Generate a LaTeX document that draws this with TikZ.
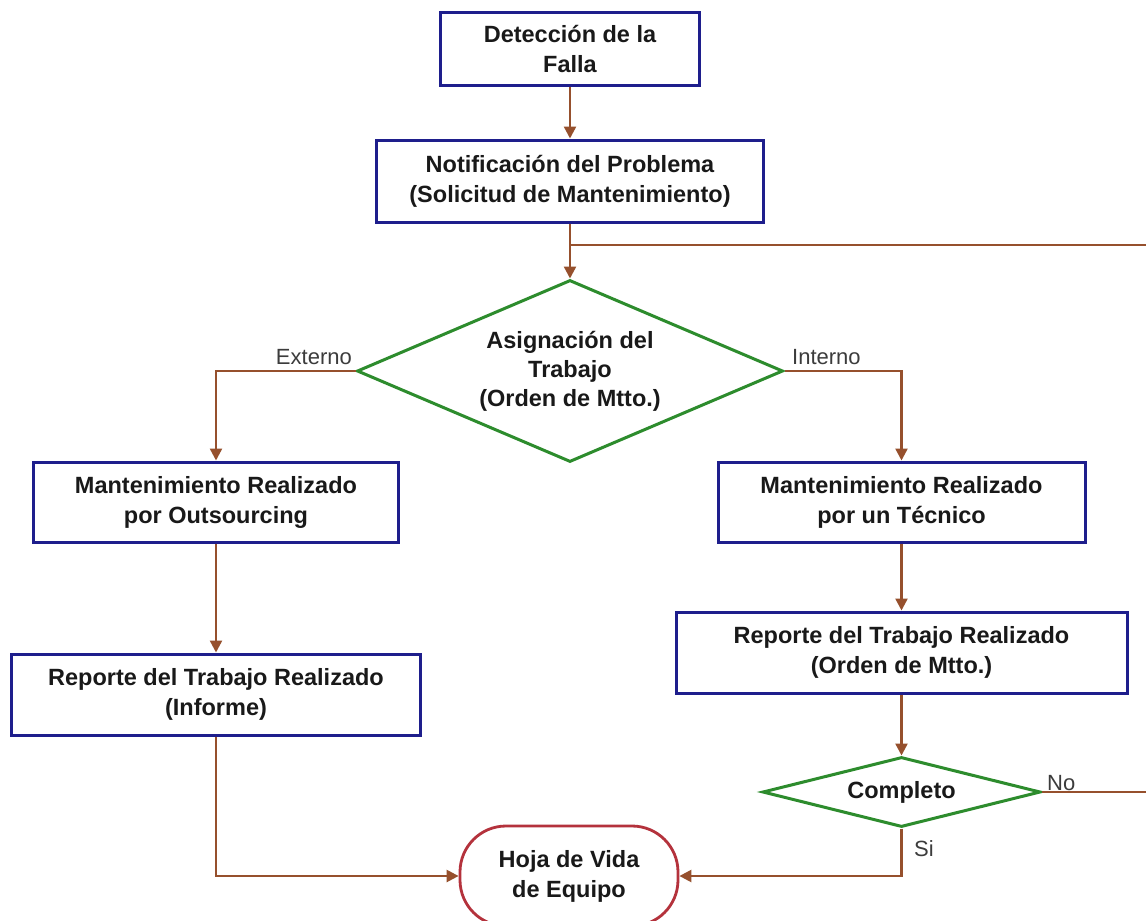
\documentclass[tikz,border=0pt]{standalone}
\usepackage{fontspec}
\setmainfont{Liberation Sans}
\usetikzlibrary{shapes.geometric,arrows.meta}
\definecolor{boxblue}{RGB}{30,30,140}
\definecolor{diagreen}{RGB}{45,140,45}
\definecolor{linebrown}{RGB}{150,80,45}
\definecolor{endred}{RGB}{180,50,60}
\definecolor{txt}{RGB}{25,25,25}
\definecolor{lbl}{RGB}{60,60,60}
\tikzset{
  procbox/.style={draw=boxblue, line width=3pt, rectangle, inner sep=0pt, align=center,
    text=txt, font=\bfseries\fontsize{23.5}{30}\selectfont},
  decide/.style={draw=diagreen, line width=3pt, diamond, inner sep=0pt, align=center,
    text=txt, font=\bfseries\fontsize{23.5}{29}\selectfont},
  endbox/.style={draw=endred, line width=2.8pt, rectangle, rounded corners=46pt, inner sep=0pt,
    align=center, text=txt, font=\bfseries\fontsize{23.5}{30}\selectfont},
  conn/.style={draw=linebrown, line width=2.4pt},
  arr/.style={conn, -{Triangle[length=12pt,width=12pt]}},
  branchlbl/.style={text=lbl, inner sep=0pt, font=\fontsize{22}{26}\selectfont}
}
\begin{document}
\begin{tikzpicture}[x=1pt,y=-1pt]
\useasboundingbox (0,0) rectangle (1146,921);
\fill[white] (0,0) rectangle (1146,921);

% nodes
\node[procbox, minimum width=259pt, minimum height=73pt] (b1) at (570,48.5) {Detección de la\\Falla};
\node[procbox, minimum width=387pt, minimum height=82pt] (b2) at (570,181) {Notificación del Problema\\(Solicitud de Mantenimiento)};
\node[decide, minimum width=426pt, minimum height=182pt, aspect=2.34] (d1) at (570,371) {Asignación del\\Trabajo\\(Orden de Mtto.)};
\node[procbox, minimum width=365pt, minimum height=80pt] (b3) at (216,502) {Mantenimiento Realizado\\por Outsourcing};
\node[procbox, minimum width=409pt, minimum height=81pt] (b4) at (216,694.5) {Reporte del Trabajo Realizado\\(Informe)};
\node[procbox, minimum width=367pt, minimum height=80pt] (b5) at (901.5,502) {Mantenimiento Realizado\\por un Técnico};
\node[procbox, minimum width=451pt, minimum height=81pt] (b6) at (901.5,652.5) {Reporte del Trabajo Realizado\\(Orden de Mtto.)};
\node[decide, minimum width=278pt, minimum height=70pt, aspect=3.97] (d2) at (901.5,792) {Completo};
\node[endbox, minimum width=218pt, minimum height=100pt] (hoja) at (569,876) {Hoja de Vida\\de Equipo};

% loop coordinates (vertical return lies at the cropped right edge)
\coordinate (loopR) at (1149,792);
\coordinate (loopT) at (1149,245);
\coordinate (join) at (570,245);

% connectors
\draw[arr] (b1.south) -- (b2.north);
\draw[arr] (b2.south) -- (d1.north);
\draw[conn] (d2.east) -- (loopR) -- (loopT) -- (join);
\draw[arr] (d1.west) -| (b3.north);
\draw[arr] (d1.east) -| (b5.north);
\draw[arr] (b3.south) -- (b4.north);
\draw[arr] (b5.south) -- (b6.north);
\draw[arr] (b6.south) -- (d2.north);
\draw[arr] (b4.south) |- (hoja.west);
\draw[arr] (d2.south) |- (hoja.east);

% branch labels
\node[branchlbl, anchor=base east] (lext) at (352,364) {Externo};
\node[branchlbl, anchor=base west] (lint) at (792,364) {Interno};
\node[branchlbl, anchor=base west] (lno) at (1047,790) {No};
\node[branchlbl, anchor=base west] (lsi) at (914,856) {Si};
\end{tikzpicture}
\end{document}
